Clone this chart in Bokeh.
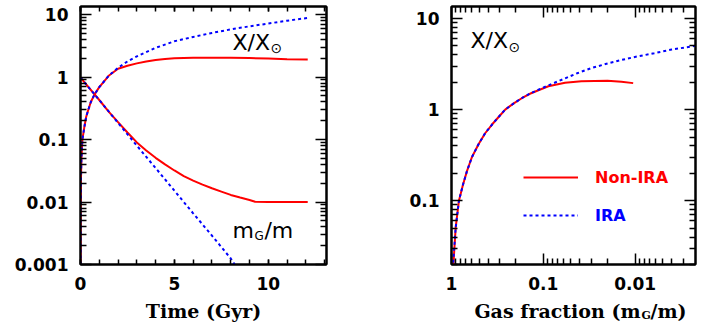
from bokeh.plotting import figure
from bokeh.layouts import row, column
from bokeh.models import Range1d, FixedTicker, LinearAxis, LogAxis, Label, Legend, LegendItem
from bokeh.embed import file_html
from bokeh.resources import INLINE

# ---------------- data ----------------
# Left panel: time evolution
time_x_ira = [0.0014, 0.02, 0.05, 0.1, 0.2, 0.3, 0.4, 0.55, 0.75, 1.0, 1.5, 2.0, 2.5, 3.0,
              4.0, 5.0, 6.0, 7.0, 8.0, 9.0, 10.0, 11.0, 12.1]
x_ira = [0.001, 0.02, 0.05, 0.1, 0.155, 0.23, 0.29, 0.4, 0.53, 0.69, 1.05, 1.41, 1.78, 2.15,
         2.94, 3.75, 4.4, 5.1, 5.8, 6.5, 7.2, 8.0, 8.85]

time_x_nonira = [0.0014, 0.02, 0.05, 0.1, 0.2, 0.3, 0.4, 0.55, 0.75, 1.0, 1.5, 2.0, 2.5,
                 3.0, 3.5, 4.0, 4.5, 5.0, 6.0, 7.0, 8.0, 9.0, 10.0, 11.0, 12.1]
x_nonira = [0.001, 0.02, 0.05, 0.1, 0.155, 0.23, 0.29, 0.4, 0.53, 0.69, 1.05, 1.36, 1.52,
            1.66, 1.78, 1.88, 1.95, 2.0, 2.04, 2.05, 2.04, 2.02, 1.98, 1.94, 1.91]

time_gas_ira = [0.0, 1.0, 2.0, 3.0, 4.0, 5.0, 6.0, 7.0, 8.0, 8.3]
gas_ira = [0.98, 0.43, 0.185, 0.08, 0.035, 0.0152, 0.0066, 0.0029, 0.00125, 0.0009]

time_gas_nonira = [0.0, 1.0, 1.5, 2.0, 2.5, 3.0, 3.5, 4.0, 4.5, 5.0, 5.5, 6.0, 6.5, 7.0,
                   7.5, 8.0, 8.5, 9.0, 9.3, 10.0, 11.0, 12.1]
gas_nonira = [0.98, 0.43, 0.28, 0.19, 0.13, 0.09, 0.067, 0.051, 0.04, 0.032, 0.026, 0.022,
              0.019, 0.0166, 0.0147, 0.013, 0.0118, 0.0108, 0.0101, 0.01, 0.01, 0.01]

# Right panel: metallicity vs gas fraction
frac_ira = [0.97, 0.9, 0.83, 0.75, 0.68, 0.6, 0.506, 0.43, 0.36, 0.3, 0.26, 0.21, 0.17,
            0.14, 0.113, 0.08, 0.058, 0.042, 0.030, 0.0205, 0.0141, 0.0095, 0.0062, 0.004,
            0.0022]
xg_ira = [0.018, 0.051, 0.1, 0.15, 0.21, 0.3, 0.42, 0.55, 0.69, 0.85, 1.0, 1.17, 1.34, 1.5,
          1.65, 1.92, 2.2, 2.52, 2.85, 3.18, 3.5, 3.82, 4.15, 4.55, 5.0]

frac_nonira = [0.96, 0.9, 0.83, 0.75, 0.68, 0.6, 0.506, 0.43, 0.36, 0.3, 0.26, 0.21, 0.17,
               0.14, 0.113, 0.088, 0.058, 0.0385, 0.02, 0.0141, 0.0105]
xg_nonira = [0.018, 0.051, 0.1, 0.15, 0.21, 0.3, 0.42, 0.55, 0.69, 0.85, 1.0, 1.17, 1.34,
             1.49, 1.63, 1.80, 1.97, 2.05, 2.07, 2.02, 1.95]

# tick labels
time_ticks = [0, 5, 10]
left_y_ticks = [0.001, 0.01, 0.1, 1, 10]
left_y_labels = ["0.001", "0.01", "0.1", "1", "10"]
frac_ticks = [1, 0.1, 0.01]
frac_labels = ["1", "0.1", "0.01"]
right_y_ticks = [0.1, 1, 10]
right_y_labels = ["0.1", "1", "10"]

RED = "#ff0000"
BLUE = "#0000ff"
TICK_FONT = "DejaVu Sans"
TITLE_FONT = "DejaVu Serif"
YMAX = 13.5


def log_minors(k0, k1):
    return [m * 10.0 ** k for k in range(k0, k1) for m in range(2, 10)]


def style(ax, major_in, minor_in, labels=True):
    ax.axis_line_color = "black"
    ax.axis_line_width = 2
    ax.major_tick_in = major_in
    ax.major_tick_out = 0
    ax.minor_tick_in = minor_in
    ax.minor_tick_out = 0
    ax.major_tick_line_color = "black"
    ax.minor_tick_line_color = "black"
    ax.major_tick_line_width = 1.5
    ax.minor_tick_line_width = 1.5
    if labels:
        ax.major_label_text_font = TICK_FONT
        ax.major_label_text_font_style = "bold"
        ax.major_label_text_font_size = "17px"
        ax.major_label_text_color = "black"
        ax.major_label_standoff = 12
    else:
        ax.major_label_text_font_size = "1px"
        ax.major_label_text_alpha = 0
        ax.major_label_standoff = 0


def txt(p, x, y, s, size, dx=0, dy=0, color="black", font=TICK_FONT, style_="normal",
        align="left"):
    p.add_layout(Label(x=x, y=y, x_offset=dx, y_offset=dy, text=s,
                       text_font=font, text_font_size=size, text_font_style=style_,
                       text_color=color, text_align=align, text_baseline="middle"))


def base(p):
    p.grid.visible = False
    p.outline_line_color = "black"
    p.outline_line_width = 2
    p.background_fill_color = "white"
    p.border_fill_color = "white"


# ---------------- left panel ----------------
p1 = figure(width=370, height=298, x_range=Range1d(0, 13.1), y_range=Range1d(0.001, YMAX),
            y_axis_type="log", output_backend="svg", toolbar_location=None,
            min_border_left=80, min_border_right=44, min_border_top=6, min_border_bottom=34)
base(p1)
p1.xaxis.ticker = FixedTicker(ticks=time_ticks, minor_ticks=list(range(0, 14)))
p1.yaxis.ticker = FixedTicker(ticks=left_y_ticks, minor_ticks=log_minors(-3, 2))
style(p1.xaxis[0], 5, 5)
style(p1.yaxis[0], 11, 6)
p1.xaxis.major_label_overrides = {t: str(t) for t in time_ticks}
p1.yaxis.major_label_overrides = dict(zip(left_y_ticks, left_y_labels))

top1 = LinearAxis(ticker=FixedTicker(ticks=time_ticks, minor_ticks=list(range(0, 14))))
style(top1, 5, 5, labels=False)
p1.add_layout(top1, "above")
right1 = LogAxis(ticker=FixedTicker(ticks=left_y_ticks, minor_ticks=log_minors(-3, 2)))
style(right1, 11, 6, labels=False)
p1.add_layout(right1, "right")

p1.line(time_x_nonira, x_nonira, line_color=RED, line_width=2)
p1.line(time_gas_nonira, gas_nonira, line_color=RED, line_width=2)
p1.line(time_x_ira, x_ira, line_color=BLUE, line_width=2, line_dash="3 3")
p1.line(time_gas_ira, gas_ira, line_color=BLUE, line_width=2, line_dash="3 3")

txt(p1, 8.09, 3.62, "X/X", "22px")
txt(p1, 8.09, 3.62, "\u2299", "14px", dx=38, dy=-6)
txt(p1, 8.09, 0.00352, "m", "22px")
txt(p1, 8.09, 0.00352, "G", "12px", dx=22, dy=-6)
txt(p1, 8.09, 0.00352, "/m", "22px", dx=32)

# ---------------- right panel ----------------
p2 = figure(width=333, height=298, x_range=Range1d(1, 0.0022), y_range=Range1d(0.02, YMAX),
            x_axis_type="log", y_axis_type="log", output_backend="svg", toolbar_location=None,
            min_border_left=81, min_border_right=8, min_border_top=6, min_border_bottom=34)
base(p2)
p2.xaxis.ticker = FixedTicker(ticks=frac_ticks, minor_ticks=log_minors(-3, 0))
p2.yaxis.ticker = FixedTicker(ticks=right_y_ticks, minor_ticks=log_minors(-2, 2))
style(p2.xaxis[0], 11, 6)
style(p2.yaxis[0], 11, 6)
p2.xaxis.major_label_overrides = dict(zip(frac_ticks, frac_labels))
p2.yaxis.major_label_overrides = dict(zip(right_y_ticks, right_y_labels))

top2 = LogAxis(ticker=FixedTicker(ticks=frac_ticks, minor_ticks=log_minors(-3, 0)))
style(top2, 11, 6, labels=False)
p2.add_layout(top2, "above")
right2 = LogAxis(ticker=FixedTicker(ticks=right_y_ticks, minor_ticks=log_minors(-2, 2)))
style(right2, 11, 6, labels=False)
p2.add_layout(right2, "right")

r_red = p2.line(frac_nonira, xg_nonira, line_color=RED, line_width=2)
r_blue = p2.line(frac_ira, xg_ira, line_color=BLUE, line_width=2, line_dash="3 3")

for item, loc, col in ((LegendItem(label="Non-IRA", renderers=[r_red]), (72, 77), RED),
                       (LegendItem(label="IRA", renderers=[r_blue]), (72, 39), BLUE)):
    lg = Legend(items=[item], location=loc, glyph_width=55, glyph_height=20,
                label_standoff=17, padding=0, margin=0, spacing=0,
                border_line_alpha=0, background_fill_alpha=0,
                label_text_color=col, label_text_font=TICK_FONT,
                label_text_font_style="bold", label_text_font_size="16px")
    p2.add_layout(lg)

txt(p2, 0.621, 5.72, "X/X", "22px")
txt(p2, 0.621, 5.72, "\u2299", "14px", dx=38, dy=-6)

# ---------------- axis titles strip (pixel coordinates) ----------------
strip = figure(width=703, height=28, x_range=Range1d(0, 703), y_range=Range1d(0, 28),
               output_backend="svg", toolbar_location=None,
               x_axis_location=None, y_axis_location=None,
               min_border_left=0, min_border_right=0, min_border_top=0, min_border_bottom=0)
strip.grid.visible = False
strip.outline_line_color = None
strip.background_fill_color = "white"
strip.border_fill_color = "white"

txt(strip, 203, 16, "Time (Gyr)", "19px", font=TITLE_FONT, style_="bold", align="center")
txt(strip, 640, 16, "Gas fraction (m", "19px", font=TITLE_FONT, style_="bold", align="right")
txt(strip, 641, 11, "G", "11px", font=TITLE_FONT, style_="bold")
txt(strip, 650, 16, "/m)", "19px", font=TITLE_FONT, style_="bold")

layout = column(row(p1, p2), strip)
open("out.html", "w").write(file_html(layout, INLINE))
